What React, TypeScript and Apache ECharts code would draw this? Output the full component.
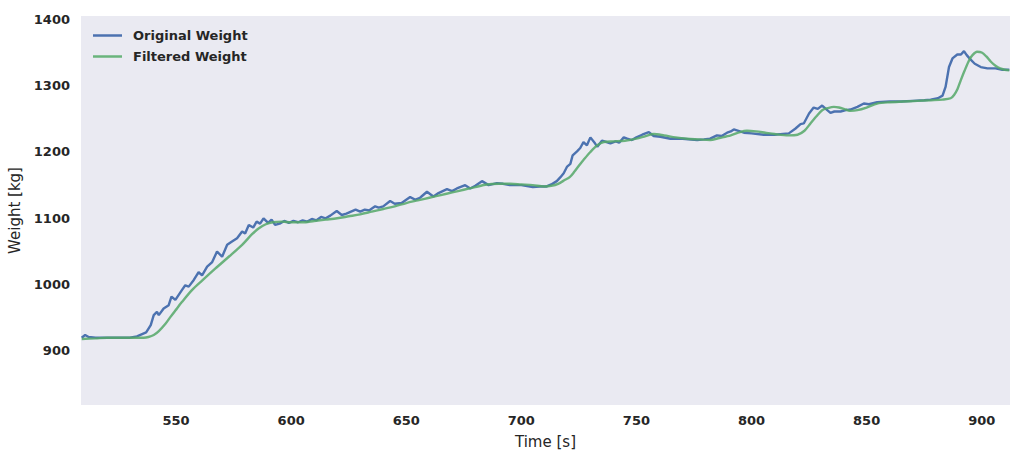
import React, { useEffect, useRef } from "react";
import * as echarts from "echarts";

const originalTime = [
  509, 510.5, 512, 515, 520, 525, 530, 533, 535, 537, 539, 540.3, 541.7, 542.5, 544.6, 546.8, 548, 549.7,
  552.6, 554, 555.5, 557.7, 559.8, 561.3, 563.5, 565.7, 567.8, 570, 572.2, 574.3, 576.5, 578.7, 580, 581.6,
  583.5, 585, 586.5, 588, 590, 591.5, 593, 595, 597, 599, 601, 603, 605, 607, 609, 611, 613, 615, 617, 619.8,
  622, 624, 626, 628, 630, 632, 634, 636.5, 638, 640, 643, 645, 648, 650, 651.7, 654, 656, 659, 661.8, 664,
  667.7, 669.9, 672, 675.6, 677.8, 680, 682.9, 685.8, 689.4, 692, 695, 700, 705, 708, 711, 713, 715.4, 717,
  718.4, 719.9, 721.3, 722.3, 724.2, 725.6, 727, 728.5, 730, 732, 733, 735, 737, 738.7, 741, 742.5, 744.5,
  746, 748, 750, 752.5, 755.4, 757.5, 760.4, 764.8, 770, 776.4, 779.3, 782, 785, 787, 789.4, 791, 792.3, 795,
  796.7, 800, 805.3, 810, 816.2, 819, 821.3, 822.7, 825, 827, 828.8, 830.7, 832.9, 834.3, 836, 838.7, 841,
  843, 846, 848.8, 851, 854.6, 860, 865, 870, 875, 877.8, 881, 883, 884.3, 885.8, 887.3, 889.4, 891, 892.3,
  893.5, 895, 897, 899.6, 902.5, 906, 909, 912,
];
const originalWeight = [
  920, 924, 921, 920, 920, 920, 920, 922, 925, 928, 939, 954, 959, 954, 964, 969, 982, 977,
  992, 999, 997, 1007, 1019, 1014, 1027, 1034, 1050, 1042, 1060, 1065, 1070, 1080, 1077, 1090,
  1086, 1095, 1092, 1100, 1093, 1098, 1090, 1092, 1096, 1093, 1096, 1094, 1097, 1095, 1099, 1097, 1102, 1100, 1104, 1111,
  1105, 1107, 1110, 1113, 1110, 1113, 1112, 1118, 1116, 1118, 1126, 1122, 1123, 1128, 1132, 1128, 1131, 1140, 1133, 1138,
  1144, 1141, 1145, 1150, 1145, 1149, 1156, 1150, 1153, 1152, 1150, 1150, 1147, 1148, 1148, 1151, 1156, 1162,
  1168, 1178, 1182, 1195, 1201, 1206, 1215, 1210, 1222, 1213, 1208, 1217, 1215, 1213, 1216, 1214, 1222,
  1220, 1218, 1222, 1226, 1230, 1224, 1223, 1220, 1220, 1218, 1219, 1220, 1225, 1224, 1229, 1231, 1234, 1231,
  1229, 1228, 1226, 1226, 1228, 1235, 1242, 1243, 1258, 1267, 1265, 1270, 1263, 1259, 1261, 1261, 1263,
  1264, 1268, 1273, 1272, 1275, 1276, 1276, 1277, 1278, 1279, 1281, 1285, 1298, 1328, 1341, 1347, 1347, 1352,
  1346, 1340, 1333, 1328, 1326, 1326, 1324, 1324,
];

const filteredTime = [
  509, 515, 520, 530, 536, 538, 540.3, 542.5, 545.4, 547.5, 549.7, 552.6, 557, 561.3, 567, 572.9, 578.7, 583,
  586, 589, 592, 596, 600, 605, 610, 615, 620, 625, 630, 635, 640, 645, 650, 655, 660, 665, 670, 675, 680, 685,
  690, 695, 700, 705, 710, 713, 716, 719, 721, 723, 725.6, 727, 730, 733, 735.8, 740, 745, 750, 754, 757.5, 762,
  767, 772, 777, 782, 786, 791, 795, 798, 802, 806, 810, 816, 820, 823, 825.6, 828, 830.7, 833, 835.8, 838, 841,
  843, 846, 850, 854.6, 860, 866, 872, 878, 883, 886.5, 888, 889.5, 890.9, 892.5, 894.5, 896, 898, 900, 902,
  904, 906, 908, 910, 912,
];
const filteredWeight = [
  918, 919, 920, 920, 920, 921, 924, 930, 941, 951, 961, 974, 992, 1006, 1024, 1042, 1060, 1076,
  1085, 1091, 1094, 1095, 1094, 1094, 1096, 1098, 1100, 1103, 1106, 1110, 1114, 1118, 1123, 1127, 1131, 1135, 1139, 1143, 1147, 1151,
  1152, 1152, 1151, 1150, 1148, 1149, 1152, 1158, 1162, 1170, 1182, 1188, 1200, 1210, 1215, 1216, 1217, 1220, 1224, 1227, 1225,
  1222, 1220, 1219, 1218, 1221, 1225, 1230, 1232, 1231, 1229, 1227, 1225, 1226, 1232, 1243, 1253, 1263, 1266, 1268, 1267, 1264,
  1262, 1263, 1267, 1273, 1275, 1276, 1277, 1278, 1279, 1281, 1286, 1295, 1308, 1322, 1338, 1346, 1351, 1350, 1344,
  1336, 1330, 1326, 1324, 1323,
];

const xTicks = [550, 600, 650, 700, 750, 800, 850, 900];
const yTicks = [900, 1000, 1100, 1200, 1300, 1400];

const zip = (t: number[], v: number[]) => t.map((x, i) => [x, v[i]]);

export default function App() {
  const ref = useRef<HTMLDivElement>(null);
  useEffect(() => {
    if (!ref.current) return;
    const chart = echarts.init(ref.current, undefined, { renderer: "svg" });
    const tickFont = {
      fontFamily: "DejaVu Sans",
      fontSize: 13,
      fontWeight: "bold" as const,
      color: "#262626",
    };
    chart.setOption({
      animation: false,
      backgroundColor: "#ffffff",
      grid: {
        left: 81,
        right: 0,
        top: 16,
        bottom: 45,
        show: true,
        backgroundColor: "#EAEAF2",
        borderWidth: 0,
        containLabel: false,
        outerBoundsMode: "none",
      },
      legend: {
        orient: "vertical",
        left: 93,
        top: 29,
        padding: 0,
        icon: "rect",
        itemWidth: 29,
        itemHeight: 2.5,
        itemGap: 8,
        textStyle: { ...tickFont, padding: [0, 0, 0, 6] },
        data: ["Original Weight", "Filtered Weight"],
      },
      xAxis: {
        type: "value",
        min: 508.7,
        max: 912.3,
        name: "Time [s]",
        nameLocation: "middle",
        nameGap: 29,
        nameTextStyle: { fontFamily: "DejaVu Sans", fontSize: 15, color: "#262626" },
        axisLine: { show: false },
        axisTick: { show: false },
        splitLine: { show: false },
        axisLabel: { ...tickFont, margin: 9, customValues: xTicks, formatter: (v: number) => String(v) },
      },
      yAxis: {
        type: "value",
        min: 818.5,
        max: 1405,
        name: "Weight [kg]",
        nameLocation: "middle",
        nameGap: 53,
        nameTextStyle: { fontFamily: "DejaVu Sans", fontSize: 15, color: "#262626" },
        axisLine: { show: false },
        axisTick: { show: false },
        splitLine: { show: false },
        axisLabel: { ...tickFont, margin: 11, customValues: yTicks, formatter: (v: number) => String(v) },
      },
      series: [
        {
          name: "Original Weight",
          type: "line",
          data: zip(originalTime, originalWeight),
          symbol: "none",
          lineStyle: { color: "#4C72B0", width: 2.4 },
          itemStyle: { color: "#4C72B0" },
        },
        {
          name: "Filtered Weight",
          type: "line",
          data: zip(filteredTime, filteredWeight),
          symbol: "none",
          smooth: 0.3,
          lineStyle: { color: "#55A868", width: 2.4, opacity: 0.85 },
          itemStyle: { color: "#6AB47C" },
        },
      ],
    });
    return () => chart.dispose();
  }, []);
  return (
    <div
      ref={ref}
      style={{ position: "fixed", left: 0, top: 0, width: 1010, height: 450 }}
    />
  );
}
